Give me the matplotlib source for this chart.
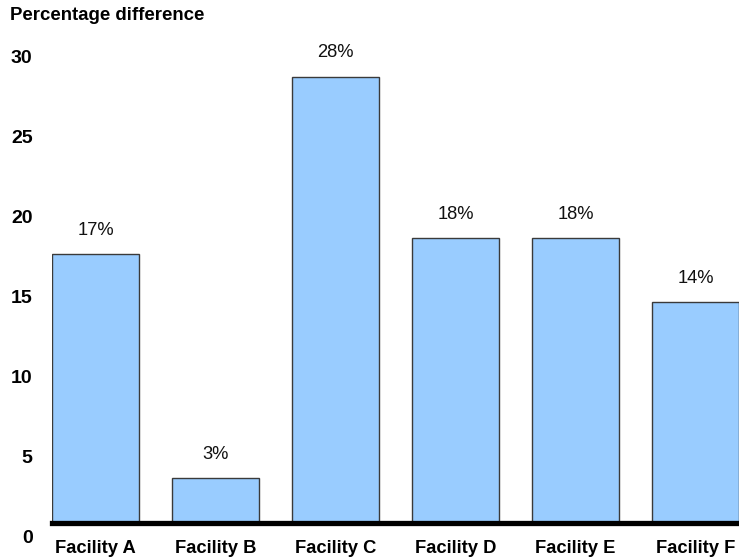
import matplotlib
matplotlib.use("Agg")
import matplotlib.pyplot as plt
from matplotlib.transforms import ScaledTranslation

plt.rcParams['font.family'] = ['Liberation Sans', 'DejaVu Sans']

# data
facilities = ["Facility A", "Facility B", "Facility C", "Facility D", "Facility E", "Facility F"]
pct_diff = [16.8, 2.8, 27.9, 17.8, 17.8, 13.8]
bar_labels = ["17%", "3%", "28%", "18%", "18%", "14%"]
y_ticks = [0, 5, 10, 15, 20, 25, 30]

fig = plt.figure(figsize=(7.39, 5.59), dpi=100)
ax = fig.add_axes([52 / 739, 1 - 523 / 559, 1 - 52 / 739, (523 - 11) / 559])

x = list(range(len(facilities)))
bars = ax.bar(x, pct_diff, width=0.725, color="#99CCFF", edgecolor="#3a3a3a", linewidth=1.0, zorder=2)

for b, lab in zip(bars, bar_labels):
    ax.annotate(lab, (b.get_x() + b.get_width() / 2, b.get_height()),
                xytext=(0, 11), textcoords="offset points",
                ha="center", va="bottom", fontsize=13.2, color="#111111")

ax.set_xlim(-0.3625, 5.3625)
ax.set_ylim(0, 32)

ax.set_xticks(x)
ax.set_xticklabels(facilities, fontsize=13.2, fontweight="bold")
ax.tick_params(axis="x", length=0, pad=12)

ax.set_yticks(y_ticks)
ax.set_yticklabels([str(v) for v in y_ticks], fontsize=14, fontweight="bold")
ax.tick_params(axis="y", length=0, pad=14)
# the original draws its value labels a bit lower than the ticks
shift = ScaledTranslation(0, -13.5 / 100, fig.dpi_scale_trans)
for t in ax.get_yticklabels():
    t.set_transform(t.get_transform() + shift)

for s in ["top", "right", "left"]:
    ax.spines[s].set_visible(False)
ax.spines["bottom"].set_linewidth(3.8)
ax.spines["bottom"].set_color("black")
ax.spines["bottom"].set_zorder(3)

fig.text(10 / 739, 1 - 15 / 559, "Percentage difference", fontsize=13.4, fontweight="bold",
         ha="left", va="center")

fig.savefig("out.png", dpi=100)
